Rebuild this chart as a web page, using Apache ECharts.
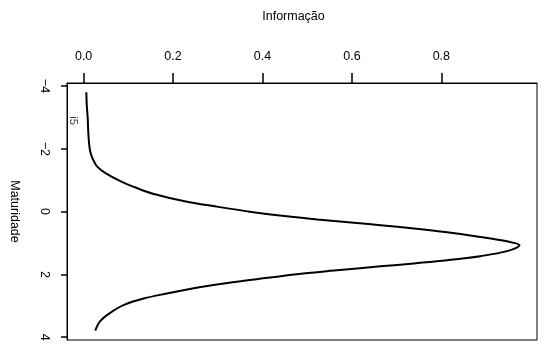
<!DOCTYPE html>
<html>
<head>
<meta charset="utf-8">
<script src="https://cdn.jsdelivr.net/npm/echarts@6/dist/echarts.min.js"></script>
<style>
html,body{margin:0;padding:0;background:#fff;}
#chart{width:541px;height:347px;}
</style>
</head>
<body>
<div id="chart"></div>
<script>
// Information values (x)
var information = [0.006,0.007,0.009,0.0105,0.0125,0.0145,0.018,0.023,0.030,0.048,0.082,0.119,0.155,0.226,0.301,0.375,0.449,0.523,0.598,0.664,0.739,0.813,0.887,0.947,0.975,0.947,0.887,0.813,0.739,0.664,0.560,0.486,0.412,0.338,0.262,0.186,0.134,0.089,0.059,0.037,0.026];
// Maturidade (theta) values (y)
var maturidade = [-3.8,-3.4,-3.0,-2.5,-2.13,-1.93,-1.76,-1.6,-1.44,-1.23,-0.97,-0.75,-0.57,-0.33,-0.15,0.01,0.143,0.252,0.347,0.433,0.541,0.662,0.806,0.946,1.073,1.26,1.42,1.55,1.65,1.745,1.88,1.98,2.11,2.24,2.40,2.61,2.77,2.98,3.23,3.49,3.79];
var xTicks = [0.0, 0.2, 0.4, 0.6, 0.8];
var yTicks = [-4, -2, 0, 2, 4];
var itemLabel = 'i5';
var itemLabelPos = [-0.023, -2.9];

var curve = information.map(function (v, i) { return [v, maturidade[i]]; });

var chart = echarts.init(document.getElementById('chart'));
var font = 'Liberation Sans, Arial, sans-serif';
chart.setOption({
  animation: false,
  backgroundColor: '#fff',
  grid: { left: 65, top: 83, right: 4, bottom: 7, show: true, borderColor: '#000', borderWidth: 1, backgroundColor: 'transparent' },
  xAxis: {
    type: 'value', position: 'top', min: -0.0372, max: 1.014,
    name: 'Informação', nameLocation: 'middle', nameGap: 60,
    nameTextStyle: { fontFamily: font, fontSize: 12.5, color: '#000', padding: [0, 17, 0, 0] },
    axisLine: { show: true, onZero: false, lineStyle: { color: '#000', width: 1 } },
    splitLine: { show: false },
    axisTick: { show: true, inside: false, length: 10, customValues: xTicks, lineStyle: { color: '#000', width: 1.5 } },
    axisLabel: { show: true, margin: 20, customValues: xTicks, fontFamily: font, fontSize: 12.5, color: '#000',
      formatter: function (v) { return v.toFixed(1); } }
  },
  yAxis: {
    type: 'value', inverse: true, min: -4.095, max: 4.09,
    name: 'Maturidade', nameLocation: 'middle', nameGap: 46, nameRotate: -90,
    nameTextStyle: { fontFamily: font, fontSize: 12.5, color: '#000' },
    axisLine: { show: true, onZero: false, lineStyle: { color: '#000', width: 1 } },
    splitLine: { show: false },
    axisTick: { show: true, inside: false, length: 6, customValues: yTicks, lineStyle: { color: '#000', width: 1.5 } },
    axisLabel: { show: true, margin: 16, rotate: -90, customValues: yTicks, fontFamily: font, fontSize: 12.5, color: '#000',
      formatter: function (v) { return String(v).replace('-', '\u2212'); } }
  },
  series: [
    {
      type: 'line', data: curve, smooth: 0.35, showSymbol: false, symbol: 'none',
      lineStyle: { color: '#000', width: 2 }
    },
    {
      type: 'scatter', data: [itemLabelPos], symbolSize: 0,
      label: { show: true, position: 'inside', rotate: -90, formatter: itemLabel, fontFamily: font, fontSize: 11, color: '#000' }
    }
  ]
});
</script>
</body>
</html>
